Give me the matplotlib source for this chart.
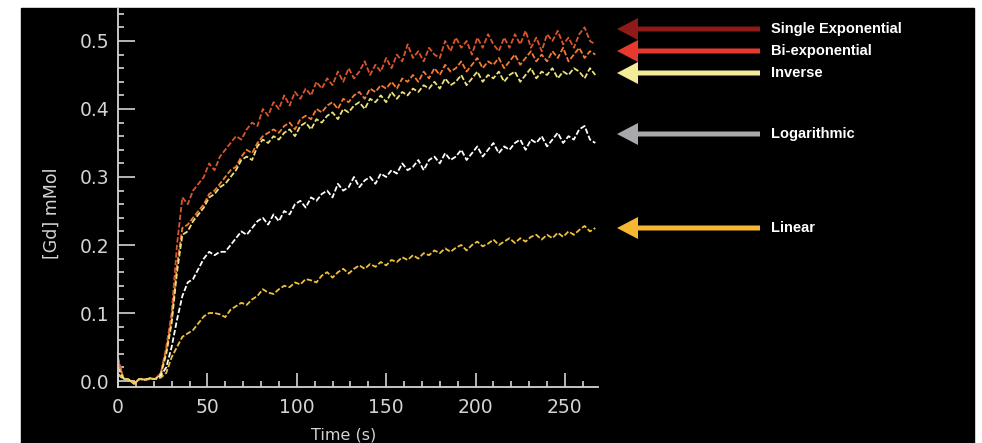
import matplotlib
matplotlib.use("Agg")
import matplotlib.pyplot as plt
from matplotlib.patches import Rectangle, FancyArrow
from matplotlib.ticker import MultipleLocator, FormatStrFormatter

plt.rcParams['font.family'] = ['DejaVu Sans']

# time axis, one sample every 3 s
time_s = list(range(0, 268, 3))

single_exp = [0.035, 0.004, 0.002, -0.004, 0.003, 0.002, 0.004, 0.003,
              0.012, 0.05, 0.10, 0.20, 0.27, 0.26, 0.28, 0.29, 0.30, 0.32,
              0.31, 0.33, 0.34, 0.35, 0.36, 0.355, 0.37, 0.38, 0.375, 0.40,
              0.39, 0.41, 0.40, 0.42, 0.405, 0.425, 0.415, 0.43, 0.42, 0.44,
              0.43, 0.445, 0.435, 0.455, 0.44, 0.46, 0.445, 0.455, 0.47, 0.45,
              0.465, 0.455, 0.475, 0.46, 0.48, 0.47, 0.495, 0.475, 0.485, 0.47,
              0.49, 0.48, 0.475, 0.50, 0.485, 0.505, 0.49, 0.50, 0.48, 0.505,
              0.49, 0.51, 0.495, 0.485, 0.505, 0.49, 0.51, 0.495, 0.515, 0.49,
              0.505, 0.485, 0.51, 0.50, 0.515, 0.495, 0.505, 0.49, 0.51, 0.52,
              0.50, 0.495]

bi_exp = [0.03, 0.004, 0.002, -0.004, 0.003, 0.002, 0.004, 0.003,
          0.012, 0.045, 0.09, 0.17, 0.225, 0.23, 0.24, 0.25, 0.26, 0.275,
          0.28, 0.29, 0.30, 0.31, 0.315, 0.33, 0.34, 0.335, 0.35, 0.36,
          0.365, 0.37, 0.365, 0.375, 0.38, 0.37, 0.385, 0.39, 0.385, 0.40,
          0.395, 0.405, 0.41, 0.40, 0.415, 0.41, 0.42, 0.425, 0.415, 0.43,
          0.425, 0.435, 0.43, 0.44, 0.43, 0.445, 0.44, 0.45, 0.44, 0.455,
          0.445, 0.46, 0.45, 0.465, 0.455, 0.46, 0.47, 0.455, 0.465, 0.475,
          0.46, 0.47, 0.465, 0.475, 0.46, 0.47, 0.48, 0.465, 0.475, 0.485,
          0.47, 0.48, 0.47, 0.485, 0.475, 0.49, 0.47, 0.48, 0.49, 0.475,
          0.485, 0.48]

inverse = [0.02, 0.004, 0.002, -0.004, 0.003, 0.002, 0.004, 0.003,
           0.01, 0.04, 0.085, 0.16, 0.215, 0.22, 0.235, 0.245, 0.255, 0.27,
           0.275, 0.285, 0.29, 0.30, 0.31, 0.325, 0.33, 0.325, 0.345, 0.355,
           0.35, 0.36, 0.355, 0.365, 0.37, 0.36, 0.375, 0.38, 0.37, 0.385,
           0.38, 0.39, 0.395, 0.385, 0.40, 0.395, 0.405, 0.41, 0.40, 0.415,
           0.41, 0.42, 0.41, 0.425, 0.415, 0.425, 0.42, 0.43, 0.425, 0.435,
           0.43, 0.44, 0.43, 0.445, 0.435, 0.44, 0.45, 0.435, 0.445, 0.455,
           0.44, 0.45, 0.445, 0.455, 0.44, 0.45, 0.455, 0.44, 0.45, 0.46,
           0.445, 0.455, 0.45, 0.46, 0.445, 0.455, 0.45, 0.46, 0.455, 0.445,
           0.46, 0.45]

logarithmic = [0.01, 0.003, 0.002, -0.003, 0.003, 0.002, 0.003, 0.003,
               0.008, 0.02, 0.05, 0.09, 0.125, 0.145, 0.15, 0.165, 0.18, 0.19,
               0.185, 0.19, 0.19, 0.20, 0.21, 0.22, 0.215, 0.225, 0.235, 0.24,
               0.23, 0.245, 0.235, 0.25, 0.245, 0.26, 0.265, 0.255, 0.27, 0.265,
               0.275, 0.28, 0.27, 0.29, 0.28, 0.285, 0.30, 0.285, 0.295, 0.30,
               0.29, 0.305, 0.30, 0.31, 0.305, 0.32, 0.31, 0.315, 0.325, 0.31,
               0.325, 0.33, 0.32, 0.335, 0.325, 0.33, 0.34, 0.325, 0.335, 0.345,
               0.33, 0.34, 0.35, 0.335, 0.345, 0.34, 0.35, 0.355, 0.34, 0.355,
               0.35, 0.36, 0.345, 0.355, 0.365, 0.35, 0.36, 0.355, 0.37, 0.375,
               0.355, 0.35]

linear = [0.01, 0.003, 0.002, -0.003, 0.003, 0.002, 0.003, 0.003,
          0.005, 0.012, 0.035, 0.05, 0.065, 0.07, 0.075, 0.085, 0.095, 0.10,
          0.10, 0.098, 0.094, 0.105, 0.11, 0.115, 0.112, 0.12, 0.125, 0.135,
          0.13, 0.128, 0.135, 0.14, 0.138, 0.145, 0.142, 0.15, 0.148, 0.145,
          0.155, 0.16, 0.152, 0.16, 0.165, 0.158, 0.165, 0.17, 0.165, 0.172,
          0.168, 0.175, 0.17, 0.178, 0.175, 0.182, 0.178, 0.185, 0.18, 0.188,
          0.185, 0.192, 0.188, 0.195, 0.19, 0.196, 0.20, 0.192, 0.20, 0.205,
          0.198, 0.202, 0.208, 0.20, 0.205, 0.21, 0.203, 0.21, 0.205, 0.212,
          0.215, 0.208, 0.215, 0.21, 0.218, 0.212, 0.22, 0.215, 0.222, 0.228,
          0.22, 0.225]

names = ["Single Exponential", "Bi-exponential", "Inverse", "Logarithmic", "Linear"]
curve_colors = ["#d9552b", "#f57b32", "#ece27c", "#ffffff", "#eec23a"]
arrow_colors = ["#8e1b17", "#e63a2e", "#f3eb9a", "#a9a9ab", "#f5b830"]
label_rows = [29, 51, 73, 134, 228]   # pixel rows of the arrows

fig = plt.figure(figsize=(9.82, 4.43), dpi=100, facecolor="white")

# full-figure pixel canvas for the black panel and the arrows
bg = fig.add_axes([0, 0, 1, 1], zorder=0)
bg.set_xlim(0, 982)
bg.set_ylim(443, 0)
bg.axis("off")
bg.add_patch(Rectangle((21, 8), 953, 440, color="black"))

for name, col, row in zip(names, arrow_colors, label_rows):
    bg.add_patch(FancyArrow(760, row, -143, 0, width=5, head_width=22,
                            head_length=21, length_includes_head=True,
                            color=col, lw=0))
    bg.text(771, row, name, color="white", fontsize=10.5, fontweight="bold",
            va="center", ha="left", family=["Liberation Sans", "DejaVu Sans"])

ax = fig.add_axes([118 / 982, 56 / 443, 480 / 982, 379 / 443], zorder=1)
ax.set_facecolor("none")

series = [single_exp, bi_exp, inverse, logarithmic, linear]
for vals, col in zip(series, curve_colors):
    ax.plot(time_s, vals, color=col, lw=1.3, linestyle=(0, (3, 1.2)))

ax.set_xlim(0, 268.5)
ax.set_ylim(-0.0088, 0.5485)

ax.xaxis.set_major_locator(MultipleLocator(50))
ax.xaxis.set_minor_locator(MultipleLocator(10))
ax.yaxis.set_major_locator(MultipleLocator(0.1))
ax.yaxis.set_minor_locator(MultipleLocator(0.02))
ax.yaxis.set_major_formatter(FormatStrFormatter("%.1f"))

gray = "#d4d4d4"
for s in ["top", "right"]:
    ax.spines[s].set_visible(False)
for s in ["left", "bottom"]:
    ax.spines[s].set_color(gray)
    ax.spines[s].set_linewidth(1.3)

ax.tick_params(which="both", direction="in", colors=gray, width=1.2)
ax.tick_params(which="major", length=10, labelsize=13.5, pad=6)
ax.tick_params(axis="x", which="major", pad=8)
ax.tick_params(which="minor", length=4.5)
ax.tick_params(axis="y", which="major", length=12)

ax.set_xlabel("Time (s)", color=gray, fontsize=11.5)
ax.xaxis.set_label_coords(0.47, -0.106)
ax.set_ylabel("[Gd] mMol", color=gray, fontsize=12.5)
ax.yaxis.set_label_coords(-0.12, 0.459)

fig.savefig("out.png", dpi=100, facecolor="white")
